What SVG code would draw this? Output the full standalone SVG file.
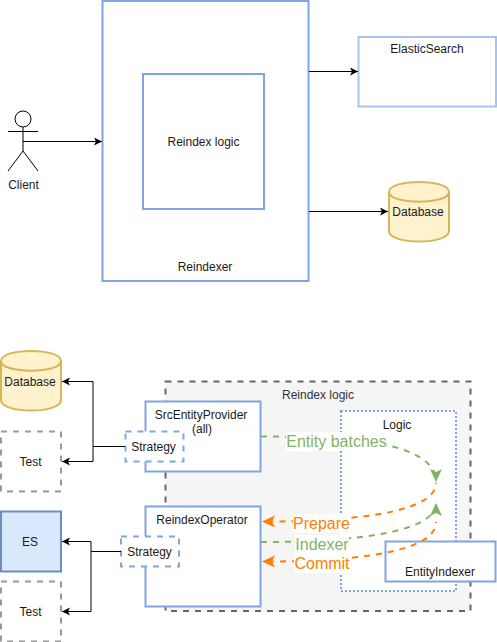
<svg xmlns="http://www.w3.org/2000/svg" width="497" height="642" viewBox="0 0 497 642">
<style>
text{font-family:"Liberation Sans",Arial,sans-serif;font-size:12px;fill:#1a1a1a;text-anchor:middle}
.blue{fill:#fff;stroke:#7EA6E0;stroke-width:2}
.light{fill:#fff;stroke:#A9C4EB;stroke-width:2}
.strat{fill:#fff;stroke:#7EA6E0;stroke-width:2;stroke-dasharray:6 6}
.test{fill:#fff;stroke:#999;stroke-width:2;stroke-dasharray:6 6}
.db{fill:#FFF2CC;stroke:#D6B656;stroke-width:2}
.line{fill:none;stroke:#000;stroke-width:1}
.green{fill:none;stroke:#82B366;stroke-width:2;stroke-dasharray:6 6}
.orange{fill:none;stroke:#FF8000;stroke-width:2;stroke-dasharray:6 6;stroke-dashoffset:5}
.lab{font-size:16px}
.labbg{fill:#fff}
</style>
<defs>
<marker id="ab" markerUnits="userSpaceOnUse" markerWidth="10" markerHeight="10" refX="8" refY="4" orient="auto"><path d="M0 0L8 4L0 8L2 4Z" fill="#000"/></marker>
<marker id="ag" markerUnits="userSpaceOnUse" markerWidth="14" markerHeight="14" refX="13" refY="6" orient="auto"><path d="M0 0L13 6L0 12L3 6Z" fill="#82B366"/></marker>
<marker id="ao" markerUnits="userSpaceOnUse" markerWidth="14" markerHeight="14" refX="13" refY="6" orient="auto"><path d="M0 0L13 6L0 12L3 6Z" fill="#FF8000"/></marker>
</defs>
<g id="reindexer"><rect class="blue" x="102.500" y="1" width="206" height="280"/><text x="205" y="271">Reindexer</text></g>
<g id="reindex-logic-inner"><rect class="blue" x="143" y="74" width="121" height="135"/><text x="203.500" y="146">Reindex logic</text></g>
<g id="elasticsearch"><rect class="light" x="358.500" y="37" width="137.500" height="69.500"/><text x="427" y="53">ElasticSearch</text></g>
<g id="database-top"><path class="db" d="M389 192C389 178.500 449 178.500 449 192V231C449 245 389 245 389 231Z"/><path class="db" style="fill:none" d="M389 192C389 205 449 205 449 192"/><text x="418" y="216">Database</text></g>
<g id="client"><circle cx="23" cy="119" r="8" fill="#fff" stroke="#000"/><path class="line" d="M23 127V151M8 131.500H38M8 171L23 151L38 171"/><text x="23.500" y="189">Client</text></g>
<g id="logic-area"><rect x="165.500" y="381.500" width="305" height="229.500" fill="#f5f5f5" stroke="#666" stroke-width="2" stroke-dasharray="6 6"/><text x="318" y="399" style="fill:#333">Reindex logic</text></g>
<g id="logic"><rect x="341" y="411" width="115" height="180" fill="#fff" stroke="#7EA6E0" stroke-width="2" stroke-dasharray="2 2"/><text x="397" y="429">Logic</text></g>
<g id="src-provider"><rect class="blue" x="145.500" y="401.500" width="115" height="70"/><text x="201" y="419">SrcEntityProvider</text><text x="202" y="433">(all)</text></g>
<g id="strategy-1"><rect class="strat" x="125.500" y="431.500" width="58" height="30"/><text x="153.500" y="451">Strategy</text></g>
<g id="reindex-operator"><rect class="blue" x="145.500" y="506.500" width="115" height="100"/><text x="202" y="524">ReindexOperator</text></g>
<g id="strategy-2"><rect class="strat" x="121" y="536.500" width="58" height="30"/><text x="149.500" y="556">Strategy</text></g>
<g id="entity-indexer"><rect class="blue" x="385.500" y="541.500" width="110" height="40"/><text x="440" y="576">EntityIndexer</text></g>
<g id="database-bottom"><path class="db" d="M1 361C1 347.500 61 347.500 61 361V400C61 414 1 414 1 400Z"/><path class="db" style="fill:none" d="M1 361C1 374 61 374 61 361"/><text x="30" y="386">Database</text></g>
<g id="test-1"><rect class="test" x="1" y="431.500" width="60" height="60"/><text x="30.500" y="466">Test</text></g>
<g id="es"><rect x="1" y="511.500" width="60" height="60" fill="#DAE8FC" stroke="#6C8EBF" stroke-width="2"/><text x="30" y="546">ES</text></g>
<g id="test-2"><rect class="test" x="1" y="581.500" width="60" height="60"/><text x="30.500" y="616">Test</text></g>
<g id="connectors">
<path class="line" marker-end="url(#ab)" d="M23 141.500H102"/>
<path class="line" marker-end="url(#ab)" d="M309 71.500H358"/>
<path class="line" marker-end="url(#ab)" d="M309 211.500H388"/>
<path class="line" marker-end="url(#ab)" d="M125 446.500H93V381.500H62"/>
<path class="line" marker-end="url(#ab)" d="M93 446.500V461.500H62"/>
<path class="line" marker-end="url(#ab)" d="M121 551.500H91V541.500H62"/>
<path class="line" marker-end="url(#ab)" d="M91 551.500V611.500H62"/>
<path class="green" marker-end="url(#ag)" d="M261 436.500C340 436.500 436 440 436 482"/>
<path class="orange" marker-end="url(#ao)" d="M436 483C436 515 340 521.500 262 521.500"/>
<path class="green" marker-end="url(#ag)" d="M261 542C340 542 436 535 436 503"/>
<path class="orange" marker-end="url(#ao)" d="M436 522C436 555 340 561.500 262 561.500"/>
<g id="edge-labels">
<rect class="labbg" x="286" y="432" width="101" height="19"/><text class="lab" x="336.500" y="447" style="fill:#82B366">Entity batches</text>
<rect class="labbg" x="293" y="514" width="57" height="19"/><text class="lab" x="321.500" y="529" style="fill:#FF8000">Prepare</text>
<rect class="labbg" x="295" y="535" width="54" height="19"/><text class="lab" x="322" y="550" style="fill:#82B366">Indexer</text>
<rect class="labbg" x="294" y="554" width="56" height="19"/><text class="lab" x="322" y="569" style="fill:#FF8000">Commit</text>
</g>
</g>
</svg>
